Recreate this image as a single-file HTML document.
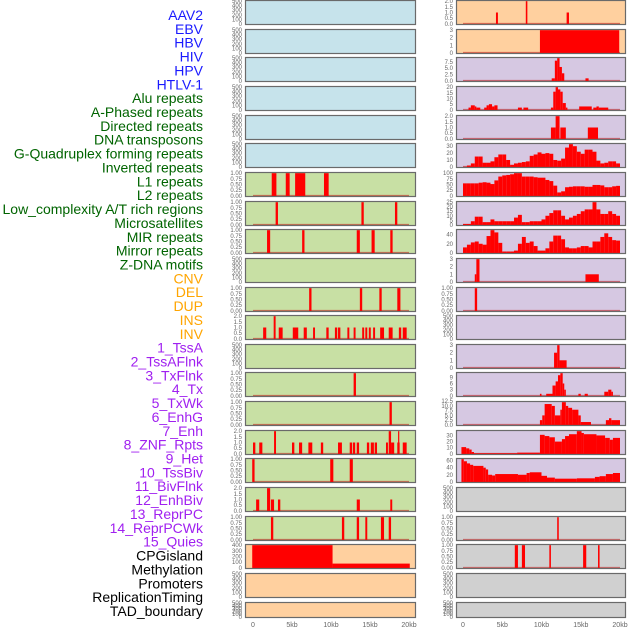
<!DOCTYPE html>
<html><head><meta charset="utf-8"><style>
html,body{margin:0;padding:0;background:#fff;width:630px;height:630px;overflow:hidden}
svg{display:block}
</style></head><body>
<svg id="chart" width="630" height="630" viewBox="0 0 630 630" xmlns="http://www.w3.org/2000/svg" font-family="Liberation Sans, sans-serif"></svg>
<script>
// ---------- data ----------
const trackLabels = ["AAV2","EBV","HBV","HIV","HPV","HTLV-1","Alu repeats","A-Phased repeats","Directed repeats","DNA transposons","G-Quadruplex forming repeats","Inverted repeats","L1 repeats","L2 repeats","Low_complexity A/T rich regions","Microsatellites","MIR repeats","Mirror repeats","Z-DNA motifs","CNV","DEL","DUP","INS","INV","1_TssA","2_TssAFlnk","3_TxFlnk","4_Tx","5_TxWk","6_EnhG","7_Enh","8_ZNF_Rpts","9_Het","10_TssBiv","11_BivFlnk","12_EnhBiv","13_ReprPC","14_ReprPCWk","15_Quies","CPGisland","Methylation","Promoters","ReplicationTiming","TAD_boundary"];
const xTickLabels = ["0","5kb","10kb","15kb","20kb"];
const xTickValues = [0,5,10,15,20];

// segments: [startKb, endKb, value]
const alu = [[2.4,3.0,1],[4.2,4.7,1],[5.4,6.7,1],[9.1,9.7,1]];
const aPhased = [[2.9,3.2,1],[13.9,14.2,1],[18.2,18.5,1]];
const directed = [[1.8,2.2,1],[6.3,6.6,1],[13.3,13.7,1],[15.2,15.6,1],[17.6,17.9,1]];
const gQuad = [[7.2,7.5,1],[13.7,14.0,1],[16.2,16.5,1],[18.5,18.9,1]];
const inverted = [[1.3,1.7,1],[2.65,2.9,2],[3.3,3.8,1],[5.1,5.8,1],[6.5,6.9,1],[7.7,7.95,1],[9.4,9.7,1],[10.5,10.8,1],[10.9,11.2,1],[12.1,12.35,1],[12.9,13.15,1],[14.0,14.25,1],[14.4,14.65,1],[14.85,15.1,1],[15.4,15.65,1],[16.3,16.8,1],[17.4,17.9,1],[18.7,19.0,1],[19.2,19.7,1]];
const l2 = [[12.9,13.2,1]];
const lowComplex = [[17.5,17.8,1]];
const microsat = [[0,0.3,1],[0.8,1.2,1],[2.7,2.95,2],[5.0,5.3,1],[5.9,6.3,1],[7.1,7.6,1],[8.7,9.0,1],[10.9,11.4,1],[12.4,12.7,1],[12.8,13.1,1],[13.3,13.6,1],[14.6,14.9,1],[15.1,15.5,1],[15.6,15.9,1],[17.05,17.3,1],[17.4,17.7,2],[17.7,18.1,1],[18.5,18.8,1],[18.6,18.72,2],[19.2,19.7,1]];
const mir = [[-0.1,0.2,1],[9.9,10.3,1],[12.4,12.8,1]];
const mirror = [[0.4,0.8,1],[1.8,2.2,2],[2.3,2.7,1],[3.2,3.5,1],[13.3,13.7,1],[17.6,17.85,1]];
const zdna = [[2.3,2.6,1],[11.4,11.7,1],[13.3,13.6,1],[14.4,14.65,1],[16.4,16.8,1],[17.4,17.7,1]];
const cnv = [[-0.1,10.2,400],[10.2,20.1,75]];
const ins = [[4.2,4.45,1],[8.0,8.2,2],[13.2,13.5,1]];
const inv = [[9.8,19.9,3]];
const tssA = [[11.3,11.7,1],[11.7,12.0,8],[12.0,12.3,9],[12.3,12.6,5.5],[12.6,12.9,3],[15.6,16.0,1]];
const tssAFlnk = [[0.7,1.0,2],[1.0,1.5,4],[1.5,1.7,3],[1.7,2.2,2],[2.7,3.0,2],[3.0,3.3,4],[3.3,3.7,5],[3.7,4.0,3],[4.0,4.4,4],[7.0,7.5,2],[7.7,8.3,2],[11.2,11.5,2],[11.5,11.8,16],[11.8,12.1,20],[12.1,12.4,18],[12.4,12.7,16],[12.7,13.1,6],[13.1,13.3,2],[14.8,16.4,3],[16.6,17.0,2],[17.0,17.3,3],[17.3,18.5,2]];
const txFlnk = [[11.2,11.8,1],[11.8,12.3,2],[12.4,13.1,1],[15.9,17.2,1]];
const znf = [[1.5,1.7,1],[1.7,2.1,3],[15.6,17.3,1]];
const het = [[1.5,1.8,1]];
const bivFlnk = [[11.6,12.0,2],[12.0,12.3,3],[12.3,13.2,1]];
const enhBiv = [[9.8,10.0,1],[10.6,11.4,1],[11.4,11.8,5],[11.8,12.1,7],[12.1,12.4,10],[12.4,12.7,11],[12.7,12.9,6],[12.9,13.1,3],[14.7,15.0,1],[15.5,15.9,1],[18.0,18.5,2],[18.5,18.9,3],[18.9,19.1,2]];
const reprPC = [[9.8,10.1,2.5],[10.1,10.4,5],[10.4,11.3,11],[11.3,11.7,10],[11.7,12.4,5],[12.4,12.6,8],[12.6,13.1,12],[13.1,13.4,10],[13.4,13.9,9],[13.9,14.7,8],[14.7,15.0,5],[15.0,16.3,1.5],[18.2,18.6,2.5],[18.6,18.9,3.5],[18.9,20,2.5]];
const reprPCWk = [[-0.2,0.4,11],[0.4,0.8,9],[0.8,1.1,7],[1.1,1.4,3],[1.4,6.9,1],[6.9,9.8,2],[9.8,10.4,31],[10.4,11.0,29],[11.0,11.7,27],[11.7,12.6,20],[12.6,13.0,24],[13.0,13.5,29],[13.5,14.5,32],[14.5,15.1,37],[15.1,15.4,34],[15.4,17.0,32],[17.0,18.1,30],[18.1,18.7,26],[18.7,19.1,23],[19.1,20,26]];
const quies = [[-0.2,0.1,64],[0.1,0.5,58],[0.5,0.9,52],[0.9,1.3,48],[1.3,2.6,45],[2.6,2.9,40],[2.9,3.2,35],[3.2,3.7,20],[3.7,4.1,18],[4.1,7.0,22],[7.0,8.1,20],[8.1,8.5,25],[8.5,10.0,27],[10.0,10.7,17],[10.7,11.7,12],[11.7,14.5,9],[14.5,16.8,10],[16.8,17.4,14],[17.4,18.2,16],[18.2,19.1,22],[19.1,20,25]];
const methylation = [[12.0,12.2,1]];
const promoters = [[6.6,7.0,1],[7.5,7.9,1],[11.0,11.2,1],[15.3,15.7,1],[17.2,17.4,1]];
// 500bp bins (40 bins over 0-20kb)
const txBins = [0,2,5,15,15,6,6,8,14,18,18,10,3,5,6,7,8,16,18,21,19,20,19,10,9,12,28,33,30,22,19,25,25,22,9,5,6,8,8,5];
const txWkBins = [55,55,55,55,58,60,58,52,68,85,90,92,95,100,100,85,85,85,82,80,80,70,65,45,15,20,38,40,42,42,42,40,40,48,48,46,38,38,42,44];
const enhGBins = [1,1,4,9,9,3,3,6,4,4,4,4,4,8,11,3,3,4,4,4,6,10,13,16,16,10,6,8,10,12,15,17,17,25,17,12,12,15,12,10];
const enhBins = [12,18,23,25,20,18,37,50,45,22,3,3,3,5,20,35,22,25,15,5,5,10,25,38,38,30,12,10,10,12,15,15,12,25,25,35,43,35,28,27];

const emptyTicks = [0,100,200,300,400,500];
const unitTicks = [0,0.25,0.5,0.75,1];
const twoTicks = [0,0.5,1,1.5,2];
const threeTicks = [0,1,2,3];

const BLUE="#c6e3eb", GREEN="#c8e0a4", ORANGE="#ffd09f", PURPLE="#d6c8e2", GRAY="#d0d0d0";

function binsToSegs(b){ return b.map((v,i)=>[i*0.5,(i+1)*0.5,v]); }

// tracks: [column,row,bg,segments or null,ticks,decimals]
const tracks = [
 [0,0,BLUE,null,emptyTicks,0],[0,1,BLUE,null,emptyTicks,0],[0,2,BLUE,null,emptyTicks,0],[0,3,BLUE,null,emptyTicks,0],[0,4,BLUE,null,emptyTicks,0],[0,5,BLUE,null,emptyTicks,0],
 [0,6,GREEN,alu,unitTicks,2],[0,7,GREEN,aPhased,unitTicks,2],[0,8,GREEN,directed,unitTicks,2],[0,9,GREEN,null,emptyTicks,0],[0,10,GREEN,gQuad,unitTicks,2],[0,11,GREEN,inverted,twoTicks,1],[0,12,GREEN,null,emptyTicks,0],[0,13,GREEN,l2,unitTicks,2],[0,14,GREEN,lowComplex,unitTicks,2],[0,15,GREEN,microsat,twoTicks,1],[0,16,GREEN,mir,unitTicks,2],[0,17,GREEN,mirror,twoTicks,1],[0,18,GREEN,zdna,unitTicks,2],
 [0,19,ORANGE,cnv,[0,100,200,300,400],0],[0,20,ORANGE,null,emptyTicks,0],[0,21,ORANGE,null,emptyTicks,0],
 [1,0,ORANGE,ins,twoTicks,1],[1,1,ORANGE,inv,threeTicks,0],
 [1,2,PURPLE,tssA,[0,2.5,5,7.5],1],[1,3,PURPLE,tssAFlnk,[0,5,10,15,20],0],[1,4,PURPLE,txFlnk,twoTicks,1],[1,5,PURPLE,binsToSegs(txBins),[0,10,20,30],0],[1,6,PURPLE,binsToSegs(txWkBins),[0,25,50,75,100],0],[1,7,PURPLE,binsToSegs(enhGBins),[0,5,10,15,20,25],0],[1,8,PURPLE,binsToSegs(enhBins),[0,20,40],0],[1,9,PURPLE,znf,threeTicks,0],[1,10,PURPLE,het,unitTicks,2],[1,11,PURPLE,null,emptyTicks,0],[1,12,PURPLE,bivFlnk,threeTicks,0],[1,13,PURPLE,enhBiv,[0,3,6,9],0],[1,14,PURPLE,reprPC,[0,2.5,5,7.5,10,12.5],1],[1,15,PURPLE,reprPCWk,[0,10,20,30],0],[1,16,PURPLE,quies,[0,20,40,60],0],
 [1,17,GRAY,null,emptyTicks,0],[1,18,GRAY,methylation,unitTicks,2],[1,19,GRAY,promoters,unitTicks,2],[1,20,GRAY,null,emptyTicks,0],[1,21,GRAY,null,emptyTicks,0]
];

// ---------- drawing ----------
const NS="http://www.w3.org/2000/svg";
const svg=document.getElementById('chart');
function mk(tag,attrs,parent){const e=document.createElementNS(NS,tag);for(const k in attrs)e.setAttribute(k,attrs[k]);(parent||svg).appendChild(e);return e;}
const COLS=[{left:245,right:416,x0:253,k:7.8},{left:456,right:626,x0:463,k:7.85}];
function xScale(c,kb){return COLS[c].x0+kb*COLS[c].k;}
function rowTop(r){return Math.round(r*28.65);}
function rowH(r){return r===21?16:25;}

// labels
const labColors = i => i<6?"#1a1aff":i<19?"#006400":i<24?"#ffa500":i<39?"#a020f0":"#000";
trackLabels.forEach((t,i)=>{
  const e=mk('text',{x:203,y:(20+i*13.86).toFixed(1),'text-anchor':'end','font-size':14,fill:labColors(i)});
  e.textContent=t;
  
  
});

tracks.forEach(([c,r,bg,segs,ticks,dec],idx)=>{
  const col=COLS[c], top=rowTop(r), h=rowH(r), bot=top+h;
  const g=mk('g',{});
  
  
  mk('rect',{x:col.left,y:top,width:col.right-col.left,height:h,fill:bg},g);
  let yS;
  if(!segs){
    yS=v=>bot-1-(v/500)*(h-2);
  } else {
    const M=Math.max(...segs.map(s=>s[2]));
    yS=v=>bot-(v+0.05*M)/(1.1*M)*h;
    // baseline
    const bl=mk('line',{x1:xScale(c,0),x2:xScale(c,20),y1:yS(0),y2:yS(0),stroke:'rgba(190,0,0,0.5)','stroke-width':2},g);
    
    
    segs.forEach(s=>{
      const x1=xScale(c,s[0]), x2=xScale(c,s[1]);
      const y1=yS(s[2]);
      const rc=mk('rect',{x:x1.toFixed(2),y:y1.toFixed(2),width:Math.max(1.2,x2-x1).toFixed(2),height:Math.max(0,yS(0)-y1+1).toFixed(2),fill:'#ff0000'},g);
      
      
    });
  }
  mk('rect',{x:col.left+0.5,y:top+0.5,width:col.right-col.left-1,height:h-1,fill:'none',stroke:'#6a6a6a','stroke-width':1.2},g);
  ticks.forEach(v=>{
    const t=mk('text',{x:col.left-3,y:(yS(v)+2).toFixed(1),'text-anchor':'end','font-size':6,fill:'#666'},g);
    t.textContent=v.toFixed(dec);
    
    
  });
});

// x axes
[0,1].forEach(c=>{
  xTickValues.forEach((v,i)=>{
    const t=mk('text',{x:xScale(c,v).toFixed(1),y:627,'text-anchor':'middle','font-size':7,fill:'#666'});
    t.textContent=xTickLabels[i];
    
    
  });
});
</script>
</body></html>
